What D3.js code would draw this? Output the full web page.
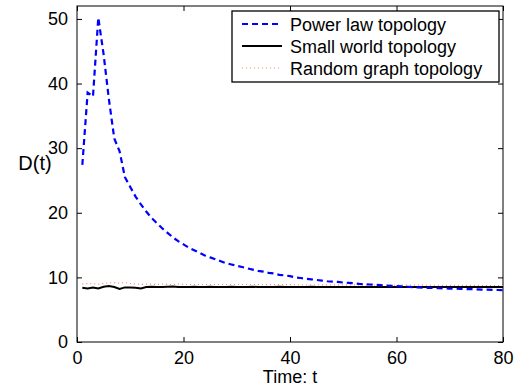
<!DOCTYPE html>
<html>
<head>
<meta charset="utf-8">
<script src="https://cdn.jsdelivr.net/npm/d3@7"></script>
<style>
  body { margin: 0; background: #fff; }
  text { font-family: "Liberation Sans", Arial, Helvetica, sans-serif; }
</style>
</head>
<body>
<div id="chart"></div>
<script>
// time steps 1..80
const times = d3.range(1, 81)

const powerLaw = [
  27.4, 38.6, 38.0, 50.2, 44.5, 37.5, 31.5, 29.5, 25.5, 24.0,
  22.5, 21.3, 20.2, 19.2, 18.4, 17.6, 16.9, 16.2, 15.6, 15.1,
  14.6, 14.2, 13.8, 13.4, 13.1, 12.8, 12.5, 12.2, 12.0, 11.8,
  11.6, 11.4, 11.2, 11.0, 10.9, 10.7, 10.6, 10.4, 10.3, 10.2,
  10.0, 9.9, 9.8, 9.7, 9.6, 9.5, 9.4, 9.35, 9.3, 9.2,
  9.15, 9.1, 9.0, 8.95, 8.9, 8.85, 8.8, 8.75, 8.7, 8.65,
  8.6, 8.55, 8.5, 8.45, 8.4, 8.38, 8.35, 8.32, 8.3, 8.27,
  8.25, 8.22, 8.2, 8.18, 8.15, 8.12, 8.1, 8.08, 8.05, 8.03
]

const smallWorld = [
  8.4, 8.3, 8.45, 8.3, 8.55, 8.65, 8.5, 8.2, 8.45, 8.45,
  8.4, 8.3, 8.5, 8.55, 8.5, 8.5, 8.55, 8.6, 8.5, 8.5,
  8.5, 8.55, 8.5, 8.5, 8.55, 8.5, 8.5, 8.5, 8.55, 8.5,
  8.5, 8.5, 8.55, 8.5, 8.5, 8.5, 8.5, 8.55, 8.5, 8.5,
  8.5, 8.5, 8.5, 8.55, 8.5, 8.5, 8.5, 8.5, 8.5, 8.5,
  8.5, 8.5, 8.5, 8.5, 8.5, 8.5, 8.5, 8.5, 8.5, 8.5,
  8.5, 8.5, 8.5, 8.5, 8.5, 8.5, 8.5, 8.5, 8.5, 8.5,
  8.5, 8.5, 8.5, 8.5, 8.5, 8.5, 8.5, 8.5, 8.5, 8.5
]

const randomGraph = [
  9.0, 9.05, 9.0, 8.95, 9.05, 9.15, 9.2, 9.1, 9.2, 9.05,
  9.0, 8.9, 8.95, 8.95, 8.9, 8.95, 8.9, 8.9, 8.95, 8.9,
  8.9, 8.9, 8.9, 8.9, 8.9, 8.9, 8.9, 8.9, 8.9, 8.9,
  8.9, 8.9, 8.9, 8.9, 8.9, 8.88, 8.88, 8.88, 8.88, 8.88,
  8.86, 8.86, 8.86, 8.86, 8.86, 8.85, 8.85, 8.85, 8.85, 8.85,
  8.84, 8.84, 8.84, 8.83, 8.83, 8.82, 8.82, 8.82, 8.81, 8.81,
  8.8, 8.8, 8.8, 8.79, 8.79, 8.78, 8.78, 8.78, 8.77, 8.77,
  8.76, 8.76, 8.76, 8.75, 8.75, 8.75, 8.74, 8.74, 8.74, 8.74
]

const xTicks = [0, 20, 40, 60, 80]
const yTicks = [0, 10, 20, 30, 40, 50]
const legendLabels = ["Power law topology", "Small world topology", "Random graph topology"]

let margin = {top: 6, right: 20, bottom: 45, left: 77},
  width = 523 - margin.left - margin.right,
  height = 387 - margin.top - margin.bottom

let svg = d3.select("#chart")
  .append("svg")
    .attr("width", 523)
    .attr("height", 387)
  .append("g")
    .attr("transform", "translate(" + margin.left + "," + margin.top + ")")

let xScale = d3.scaleLinear().domain([0, 80]).range([0, width])
let yScale = d3.scaleLinear().domain([0, 52]).range([height, 0])

// axes: labels on bottom/left, mirrored ticks inside on all four sides
function styleAxis(g) {
  g.select(".domain").remove()
  g.selectAll(".tick line").attr("stroke", "#000")
  g.selectAll("text").attr("font-size", 18).attr("fill", "#000")
}
svg.append("g").attr("transform", "translate(0," + height + ")")
  .call(d3.axisBottom(xScale).tickValues(xTicks).tickSizeInner(-5).tickPadding(9))
  .call(styleAxis)
svg.append("g")
  .call(d3.axisLeft(yScale).tickValues(yTicks).tickSizeInner(-5).tickPadding(9))
  .call(styleAxis)
svg.append("g")
  .call(d3.axisTop(xScale).tickValues(xTicks).tickSizeInner(-5).tickFormat(""))
  .call(styleAxis)
svg.append("g").attr("transform", "translate(" + width + ",0)")
  .call(d3.axisRight(yScale).tickValues(yTicks).tickSizeInner(-5).tickFormat(""))
  .call(styleAxis)

svg.append("rect")
  .attr("width", width).attr("height", height)
  .attr("fill", "none").attr("stroke", "#000").attr("stroke-width", 1)

let line = d3.line()
  .x((d, i) => xScale(times[i]))
  .y(d => yScale(d))

const series = [
  {values: randomGraph, color: "#ff7f7f", width: 1.2, dash: "1,3"},
  {values: smallWorld, color: "#000", width: 2, dash: null},
  {values: powerLaw, color: "#0000ff", width: 2.2, dash: "6,4"}
]

svg.selectAll(".series")
  .data(series)
  .join("path")
    .attr("class", "series")
    .attr("d", d => line(d.values))
    .attr("fill", "none")
    .attr("stroke", d => d.color)
    .attr("stroke-width", d => d.width)
    .attr("stroke-dasharray", d => d.dash)

// axis titles
svg.append("text")
  .attr("x", width / 2).attr("y", height + 41)
  .attr("text-anchor", "middle").attr("font-size", 18)
  .text("Time: t")
svg.append("text")
  .attr("x", 35 - margin.left).attr("y", 170 - margin.top)
  .attr("text-anchor", "middle").attr("font-size", 20)
  .text("D(t)")

// legend
let legendStyles = [series[2], series[1], series[0]]
let legend = svg.append("g").attr("transform", "translate(" + (232 - margin.left) + "," + (11 - margin.top) + ")")
legend.append("rect")
  .attr("width", 267).attr("height", 71)
  .attr("fill", "#fff").attr("stroke", "#000").attr("stroke-width", 1.3)
legend.selectAll(".item")
  .data(legendLabels)
  .join("g")
    .attr("class", "item")
    .attr("transform", (d, i) => "translate(0," + (13 + i * 22) + ")")
    .each(function(d, i) {
      let g = d3.select(this)
      let s = legendStyles[i]
      g.append("line")
        .attr("x1", 10).attr("x2", 50).attr("y1", 0).attr("y2", 0)
        .attr("stroke", s.color).attr("stroke-width", s.width)
        .attr("stroke-dasharray", s.dash)
      g.append("text")
        .attr("x", 58).attr("y", 6.5)
        .attr("font-size", 18)
        .text(d)
    })
</script>
</body>
</html>
